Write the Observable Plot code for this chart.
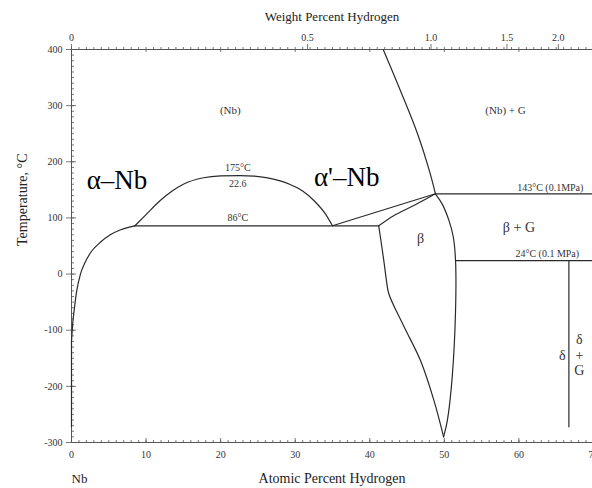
<!DOCTYPE html>
<html><head><meta charset="utf-8">
<script src="https://cdn.jsdelivr.net/npm/d3@7"></script>
<script src="https://cdn.jsdelivr.net/npm/@observablehq/plot@0.6"></script>
<style>body{margin:0;background:#fff} svg{font-family:"Liberation Serif","Times New Roman",serif;background:#fff}</style>
</head><body><div id="chart"></div>
<script>
// Phase boundaries: [atomic % H, temperature °C]
const alphaSolvusLow = [[0,-272],[0,-120]];
const alphaSolvus = [[0,-120],[0.15,-90],[0.4,-60],[0.7,-30],[1.2,0],[1.8,20],[2.55,38],[3.9,57],[5.2,70],[6.6,79],[8.5,86]];
const miscibilityDome = [[8.5,86],[10,106],[11.9,131],[13.5,148],[15,160],[17.7,171.5],[20,174.8],[22.6,175.4],[24.5,174.6],[26.3,171.5],[28,166],[29.4,159],[31,148],[32.5,131],[34,108],[35,86]];
const alphaPrimeBoundary = [[35,86],[48.8,143]];
const betaUpperLeft = [[41.2,86],[43.2,104],[45.9,122],[48.8,143]];
const betaLeft = [[41.2,86],[41.88,24],[42.24,-12],[42.55,-35],[44.6,-94],[46.8,-154],[48.6,-225],[49.9,-290]];
const betaRight = [[48.8,143],[49.7,125],[50.6,96],[51.2,66],[51.5,24],[51.5,-65],[51.05,-184],[50.4,-261],[49.9,-290]];
const nbGasBoundary = [[41.8,400],[44.1,327],[46.4,250],[48.1,179],[48.8,143]];
const eutectoid86 = [[8.5,86],[41.2,86]];
const isotherm143 = [[48.8,143],[70,143]];
const isotherm24 = [[51.5,24],[70,24]];
const deltaLine = [[66.7,24],[66.7,-272]];

// Axes
const atTicks = [0,10,20,30,40,50,60,70];
const atMinor = d3.range(0,71,1);
const tempTicks = [-300,-200,-100,0,100,200,300,400];
const tempMinor = d3.range(-300,401,10);
const wtTicks = [0,0.5,1.0,1.5,2.0];
const wtLabels = ["0","0.5","1.0","1.5","2.0"];

// Region labels
const smallLabels = [
  {a:22.3,t:190,s:"175°C"},{a:22.3,t:160,s:"22.6"},{a:22.3,t:101,s:"86°C"},
  {a:64.2,t:154,s:"143°C (0.1MPa)"},{a:63.8,t:37,s:"24°C (0.1 MPa)"}
];
const phaseLabels = [{a:21.3,t:291,s:"(Nb)"},{a:58.2,t:291,s:"(Nb) + G"}];
const mediumLabels = [
  {a:60,t:83,s:"β + G"},{a:46.8,t:63,s:"β"},{a:65.8,t:-145,s:"δ"},
  {a:68.1,t:-117,s:"δ"},{a:68.1,t:-145,s:"+"},{a:68.1,t:-172,s:"G"}
];
const bigLabels = [{a:6.1,t:167,s:"α–Nb"},{a:36.9,t:172,s:"α'–Nb"}];

const smoothX = {alphaSolvus, miscibilityDome};
const smoothY = {betaUpperLeft, betaLeft, betaRight, nbGasBoundary};
const straight = {alphaSolvusLow, alphaPrimeBoundary, eutectoid86, isotherm143, isotherm24, deltaLine};
const rows = obj => Object.entries(obj).flatMap(([k, pts]) => pts.map(([a,t]) => ({k,a,t})));

// weight % H -> atomic % H for Nb-H
const atFromWt = w => { const h = w/1.008, nb = (100-w)/92.906; return 100*h/(h+nb); };

const ink = "#2a2a2a";
const axisInk = "#555";
const chart = Plot.plot({
  width: 592, height: 488,
  marginLeft: 71, marginRight: 0, marginTop: 49, marginBottom: 46,
  x: {domain: [0,70], range: [71,593]},
  y: {domain: [-300,400], range: [442,49]},
  style: {fontFamily: "'Liberation Serif','Times New Roman',serif", background: "#fff"},
  marks: [
    Plot.ruleY([-300,400], {stroke: axisInk, strokeWidth: 1}),
    Plot.ruleX([0], {stroke: axisInk, strokeWidth: 1}),
    Plot.ruleX(atMinor, {x: d=>d, y1: -300, y2: -300, insetBottom: 2, stroke: axisInk, strokeWidth: 0.8}),
    Plot.ruleX(atTicks, {x: d=>d, y1: -300, y2: -300, insetBottom: 4, stroke: axisInk, strokeWidth: 0.8}),
    Plot.ruleX(atMinor, {x: d=>d, y1: 400, y2: 400, insetTop: -2, stroke: axisInk, strokeWidth: 0.8}),
    Plot.ruleX(atTicks, {x: d=>d, y1: 400, y2: 400, insetBottom: -3, stroke: axisInk, strokeWidth: 0.8}),
    Plot.ruleX(wtTicks, {x: atFromWt, y1: 400, y2: 400, insetTop: -5, stroke: axisInk, strokeWidth: 0.8}),
    Plot.ruleY(tempMinor, {y: d=>d, x1: 0, x2: 0, insetRight: -3, stroke: axisInk, strokeWidth: 0.8}),
    Plot.ruleY(tempTicks, {y: d=>d, x1: 0, x2: 0, insetLeft: -5, insetRight: -5, stroke: axisInk, strokeWidth: 0.8}),
    Plot.axisX({anchor: "bottom", ticks: atTicks, tickSize: 0, tickPadding: 8, fontSize: 10, label: null, tickFormat: d=>String(d), fill: "#333"}),
    Plot.axisY({anchor: "left", ticks: tempTicks, tickSize: 0, tickPadding: 9, fontSize: 10, label: null, tickFormat: d=>String(d), fill: "#333"}),
    Plot.text(wtTicks, {x: atFromWt, y: 400, text: (d,i)=>wtLabels[i], dy: -12, fontSize: 10, fill: "#333"}),
    Plot.text(["Weight Percent Hydrogen"], {frameAnchor: "top", lineAnchor: "middle", text: d=>d, dy: -33, fontSize: 13, fill: "#222"}),
    Plot.text(["Atomic Percent Hydrogen"], {frameAnchor: "bottom", lineAnchor: "middle", text: d=>d, dy: 36, fontSize: 14, fill: "#222"}),
    Plot.text(["Temperature, °C"], {frameAnchor: "left", text: d=>d, rotate: -90, dx: -49, fontSize: 14, fill: "#222"}),
    Plot.text(["Nb"], {x: 0, y: -300, text: d=>d, dy: 36, textAnchor: "start", fontSize: 13, fill: "#222"}),
    Plot.line(rows(smoothX), {x: "a", y: "t", z: "k", curve: "monotone-x", stroke: ink, strokeWidth: 1.2}),
    Plot.line(rows(smoothY), {x: "a", y: "t", z: "k", curve: "catmull-rom", stroke: ink, strokeWidth: 1.2}),
    Plot.line(rows(straight), {x: "a", y: "t", z: "k", stroke: ink, strokeWidth: 1.2}),
    Plot.text(smallLabels, {x: "a", y: "t", text: "s", fontSize: 10, fill: "#333"}),
    Plot.text(phaseLabels, {x: "a", y: "t", text: "s", fontSize: 11, fill: "#333"}),
    Plot.text(mediumLabels, {x: "a", y: "t", text: "s", fontSize: 14, fill: "#333"}),
    Plot.text(bigLabels, {x: "a", y: "t", text: "s", fontSize: 27, fill: "#000"})
  ]
});
document.getElementById("chart").appendChild(chart);
</script></body></html>
